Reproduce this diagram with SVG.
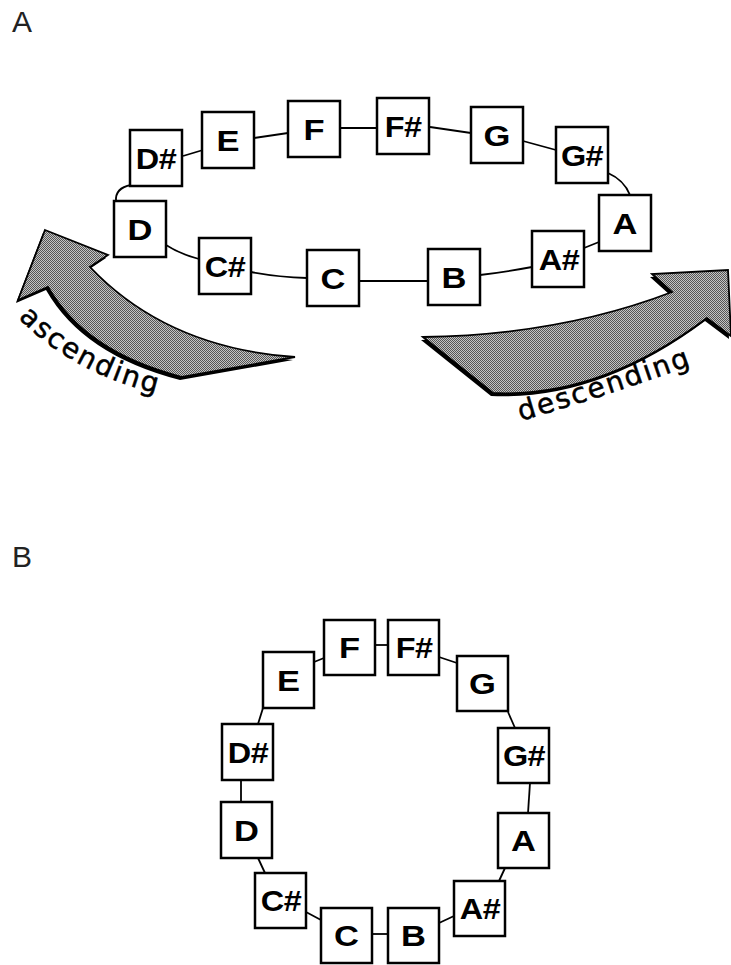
<svg xmlns="http://www.w3.org/2000/svg" width="731" height="965" viewBox="0 0 731 965">
<style>
.box rect{fill:#fff;stroke:#000;stroke-width:2.5}
.box text{font-family:"Liberation Sans",Arial,sans-serif;font-weight:bold;font-size:30px;fill:#000;text-anchor:middle}
.box text.two{letter-spacing:-0.5px}
.conn path{fill:none;stroke:#000;stroke-width:1.8}
.panel{font-family:"Liberation Sans",Arial,sans-serif;font-size:30px;fill:#222}
.arrow{fill:url(#dither);stroke:#000;stroke-width:1.8;stroke-linejoin:miter}
.shadow{fill:#000}
.lbl{font-family:"DejaVu Sans","Liberation Sans",sans-serif;font-size:28px;fill:#000;stroke:#000;stroke-width:0.5}
</style>
<defs>
<pattern id="dither" patternUnits="userSpaceOnUse" width="2" height="2">
<rect width="2" height="2" fill="#c4c4c4"/>
<rect x="0" y="0" width="1" height="1" fill="#555"/>
<rect x="1" y="1" width="1" height="1" fill="#555"/>
</pattern>
<path id="ascPath" d="M18,318 Q80,380 178,398"/>
<path id="descPath" d="M521,421 Q610,395 712,358"/>
</defs>
<text class="panel" x="12" y="32">A</text>
<text class="panel" x="12" y="567">B</text>
<g id="arrow-ascending">
<path class="shadow" d="M45,230 L108,255 L90,267 Q167,348 295,357 L182,377 Q85,352 48,287 L18,300 Z" transform="translate(-2,3)"/>
<path class="arrow" d="M45,230 L108,255 L90,267 Q167,348 295,357 L182,377 Q85,352 48,287 L18,300 Z"/>
<text class="lbl" letter-spacing="2"><textPath href="#ascPath">ascending</textPath></text>
</g>
<g id="arrow-descending">
<path class="shadow" d="M423,337 Q560,335 672,292 L652,274 L728,270 L731,336 L707,318 Q600,398 493,393 Z" transform="translate(-2,3)"/>
<path class="arrow" d="M423,337 Q560,335 672,292 L652,274 L728,270 L731,336 L707,318 Q600,398 493,393 Z"/>
<text class="lbl" letter-spacing="2"><textPath href="#descPath">descending</textPath></text>
</g>
<g class="conn" id="connectors">
<path d="M183,156 L203,150"/>
<path d="M254,138 L288,133"/>
<path d="M340,128 L377,128"/>
<path d="M430,127 L471,133"/>
<path d="M523,141 L556,150"/>
<path d="M608,173 Q624,180 630,195"/>
<path d="M599,242 L584,248"/>
<path d="M532,267 Q505,272 480,275"/>
<path d="M428,281 L359,281"/>
<path d="M307,278 Q278,277 251,272"/>
<path d="M199,259 Q180,254 166,245"/>
<path d="M116,201 Q115,188 131,185"/>
<path d="M375,645 L388,645"/>
<path d="M314,662 L324,658"/>
<path d="M439,657 L457,663"/>
<path d="M508,712 L515,728"/>
<path d="M530,783 L528,813"/>
<path d="M505,868 L499,881"/>
<path d="M454,916 L439,923"/>
<path d="M372,934 L388,934"/>
<path d="M321,920 L306,912"/>
<path d="M265,873 L258,858"/>
<path d="M241,780 L241,802"/>
<path d="M258,724 L263,708"/>
</g>
<g class="box" id="top-Dsharp"><rect x="130" y="130" width="52" height="56"/><text class="two" transform="translate(156,169) scale(1.08,1)">D#</text></g>
<g class="box" id="top-E"><rect x="202" y="112" width="52" height="56"/><text transform="translate(228,151) scale(1.15,1)">E</text></g>
<g class="box" id="top-F"><rect x="288" y="101" width="52" height="56"/><text transform="translate(314,140) scale(1.15,1)">F</text></g>
<g class="box" id="top-Fsharp"><rect x="377" y="98" width="52" height="56"/><text class="two" transform="translate(403,137) scale(1.08,1)">F#</text></g>
<g class="box" id="top-G"><rect x="471" y="107" width="52" height="56"/><text transform="translate(497,146) scale(1.15,1)">G</text></g>
<g class="box" id="top-Gsharp"><rect x="556" y="127" width="52" height="56"/><text class="two" transform="translate(582,166) scale(1.08,1)">G#</text></g>
<g class="box" id="top-A"><rect x="599" y="195" width="52" height="56"/><text transform="translate(625,234) scale(1.15,1)">A</text></g>
<g class="box" id="top-Asharp"><rect x="532" y="231" width="52" height="56"/><text class="two" transform="translate(559,270) scale(1.08,1)">A#</text></g>
<g class="box" id="top-B"><rect x="428" y="249" width="52" height="56"/><text transform="translate(454,288) scale(1.15,1)">B</text></g>
<g class="box" id="top-C"><rect x="307" y="250" width="52" height="56"/><text transform="translate(333,289) scale(1.15,1)">C</text></g>
<g class="box" id="top-Csharp"><rect x="199" y="238" width="52" height="56"/><text class="two" transform="translate(225,277) scale(1.08,1)">C#</text></g>
<g class="box" id="top-D"><rect x="114" y="201" width="52" height="56"/><text transform="translate(140,240) scale(1.15,1)">D</text></g>
<g class="box" id="bot-F"><rect x="324" y="620" width="51" height="55"/><text transform="translate(349.5,658) scale(1.15,1)">F</text></g>
<g class="box" id="bot-Fsharp"><rect x="388" y="620" width="51" height="55"/><text class="two" transform="translate(414,658) scale(1.08,1)">F#</text></g>
<g class="box" id="bot-G"><rect x="457" y="656" width="51" height="55"/><text transform="translate(482.5,694) scale(1.15,1)">G</text></g>
<g class="box" id="bot-Gsharp"><rect x="498" y="728" width="51" height="55"/><text class="two" transform="translate(524,766) scale(1.08,1)">G#</text></g>
<g class="box" id="bot-A"><rect x="498" y="813" width="51" height="55"/><text transform="translate(523.5,851) scale(1.15,1)">A</text></g>
<g class="box" id="bot-Asharp"><rect x="454" y="881" width="51" height="55"/><text class="two" transform="translate(480,919) scale(1.08,1)">A#</text></g>
<g class="box" id="bot-B"><rect x="388" y="908" width="51" height="55"/><text transform="translate(413.5,946) scale(1.15,1)">B</text></g>
<g class="box" id="bot-C"><rect x="321" y="908" width="51" height="55"/><text transform="translate(346.5,946) scale(1.15,1)">C</text></g>
<g class="box" id="bot-Csharp"><rect x="255" y="873" width="51" height="55"/><text class="two" transform="translate(281,911) scale(1.08,1)">C#</text></g>
<g class="box" id="bot-D"><rect x="221" y="802" width="51" height="56"/><text transform="translate(246.5,841) scale(1.15,1)">D</text></g>
<g class="box" id="bot-Dsharp"><rect x="222" y="724" width="51" height="56"/><text class="two" transform="translate(248,763) scale(1.08,1)">D#</text></g>
<g class="box" id="bot-E"><rect x="263" y="652" width="51" height="56"/><text transform="translate(288.5,691) scale(1.15,1)">E</text></g>
</svg>
